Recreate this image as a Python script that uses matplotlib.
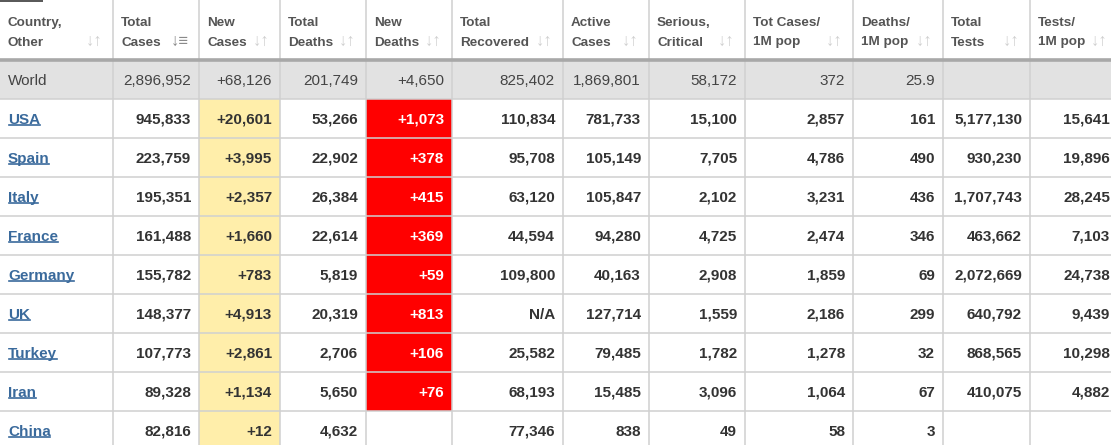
import matplotlib
matplotlib.use("Agg")
import matplotlib.pyplot as plt
from matplotlib.patches import Rectangle

# ---------------- data ----------------
headers = [["Country,", "Other"], ["Total", "Cases"], ["New", "Cases"], ["Total", "Deaths"],
           ["New", "Deaths"], ["Total", "Recovered"], ["Active", "Cases"], ["Serious,", "Critical"],
           ["Tot Cases/", "1M pop"], ["Deaths/", "1M pop"], ["Total", "Tests"], ["Tests/", "1M pop"]]

world = ["World", "2,896,952", "+68,126", "201,749", "+4,650", "825,402", "1,869,801",
         "58,172", "372", "25.9", "", ""]

countries = ["USA", "Spain", "Italy", "France", "Germany", "UK", "Turkey", "Iran", "China"]
total_cases = [945833, 223759, 195351, 161488, 155782, 148377, 107773, 89328, 82816]
new_cases = [20601, 3995, 2357, 1660, 783, 4913, 2861, 1134, 12]
total_deaths = [53266, 22902, 26384, 22614, 5819, 20319, 2706, 5650, 4632]
new_deaths = [1073, 378, 415, 369, 59, 813, 106, 76, None]
total_recovered = [110834, 95708, 63120, 44594, 109800, None, 25582, 68193, 77346]
active_cases = [781733, 105149, 105847, 94280, 40163, 127714, 79485, 15485, 838]
serious_critical = [15100, 7705, 2102, 4725, 2908, 1559, 1782, 3096, 49]
cases_per_1m = [2857, 4786, 3231, 2474, 1859, 2186, 1278, 1064, 58]
deaths_per_1m = [161, 490, 436, 346, 69, 299, 32, 67, 3]
total_tests = [5177130, 930230, 1707743, 463662, 2072669, 640792, 868565, 410075, None]
tests_per_1m = [15641, 19896, 28245, 7103, 24738, 9439, 10298, 4882, None]

# ---------------- layout ----------------
W, H = 1111, 445
col_edges = [0, 113, 199, 280, 366, 452, 563, 649, 745, 853, 943, 1030, 1118]
header_h = 60
row_h = 39
FONT = "Liberation Sans"
BASE_OFF = 5.3  # baseline offset below row centre (px)

def fmt(v, plus=False, na=""):
    if v is None:
        return na
    s = f"{v:,}"
    return "+" + s if plus else s

fig = plt.figure(figsize=(W / 100, H / 100), dpi=100)
ax = fig.add_axes([0, 0, 1, 1])
ax.set_xlim(0, W)
ax.set_ylim(H, 0)
ax.axis("off")

grid_c = "#d0d0d0"

# top-left tiny bar
ax.add_patch(Rectangle((0, 0), 43, 1.6, color="#5a5a5a", lw=0, zorder=5))

# world row background
ax.add_patch(Rectangle((0, header_h), W + 10, row_h, color="#e2e2e2", lw=0, zorder=0))

# data rows
rows = []
for i in range(len(countries)):
    rows.append([countries[i], fmt(total_cases[i]), fmt(new_cases[i], True),
                 fmt(total_deaths[i]), fmt(new_deaths[i], True),
                 fmt(total_recovered[i], na="N/A"), fmt(active_cases[i]),
                 fmt(serious_critical[i]), fmt(cases_per_1m[i]), fmt(deaths_per_1m[i]),
                 fmt(total_tests[i]), fmt(tests_per_1m[i])])

for i, r in enumerate(rows):
    y0 = header_h + row_h * (i + 1)
    if r[2]:
        ax.add_patch(Rectangle((col_edges[2], y0), col_edges[3] - col_edges[2], row_h,
                               color="#FFEEAA", lw=0, zorder=0))
    if r[4]:
        ax.add_patch(Rectangle((col_edges[4], y0), col_edges[5] - col_edges[4], row_h,
                               color="#FF0000", lw=0, zorder=0))

# grid lines
for x in col_edges[1:-1]:
    ax.plot([x, x], [0, H], color=grid_c, lw=1.1, zorder=2, solid_capstyle="butt")
n_total = len(rows) + 1
for k in range(1, n_total + 1):
    y = header_h + row_h * k
    if y < H:
        ax.plot([0, W], [y, y], color=grid_c, lw=1.1, zorder=2)
ax.plot([0, W], [header_h, header_h], color="#a8a8a8", lw=2.6, zorder=3)

# header text
for j, (l1, l2) in enumerate(headers):
    x = col_edges[j] + 8
    ax.text(x, 26, l1, fontsize=9.7, fontweight="bold", color="#555555",
            family=FONT, va="baseline", ha="left", zorder=4)
    ax.text(x, 45.5, l2, fontsize=9.7, fontweight="bold", color="#555555",
            family=FONT, va="baseline", ha="left", zorder=4)
    icon_c = "#8a8a8a" if j == 1 else "#d0d0d0"
    ax.text(col_edges[j + 1] - 10, 46, "↓↑" if j != 1 else "↓≡", fontsize=12,
            fontweight="bold", color=icon_c, family=[FONT, "DejaVu Sans"],
            va="baseline", ha="right", zorder=4)

# world row
yb = header_h + row_h / 2 + BASE_OFF
ax.text(8, yb, world[0], fontsize=11, color="#444444", family=FONT,
        va="baseline", ha="left", zorder=4)
for j in range(1, len(world)):
    if world[j]:
        ax.text(col_edges[j + 1] - 8, yb, world[j], fontsize=11, color="#444444",
                family=FONT, va="baseline", ha="right", zorder=4)

# data row text
link_texts = []
for i, r in enumerate(rows):
    yb = header_h + row_h * (i + 1) + row_h / 2 + BASE_OFF
    t = ax.text(8, yb, r[0], fontsize=11, fontweight="bold", color="#3a6a9c",
                family=FONT, va="baseline", ha="left", zorder=4)
    link_texts.append((t, yb))
    for j in range(1, len(r)):
        if r[j]:
            c = "#ffffff" if j == 4 else "#333333"
            ax.text(col_edges[j + 1] - 8, yb, r[j], fontsize=11, fontweight="bold",
                    color=c, family=FONT, va="baseline", ha="right", zorder=4)

# underline the country links
fig.canvas.draw()
renderer = fig.canvas.get_renderer()
inv = ax.transData.inverted()
for t, yb in link_texts:
    bb = t.get_window_extent(renderer)
    (x0, _), (x1, _) = inv.transform([(bb.x0, bb.y0), (bb.x1, bb.y1)])
    yl = yb + 1.6
    ax.plot([x0 + 0.5, x1 - 0.5], [yl, yl], color="#3a6a9c", lw=1.2, zorder=4)

fig.savefig("out.png", dpi=100)
